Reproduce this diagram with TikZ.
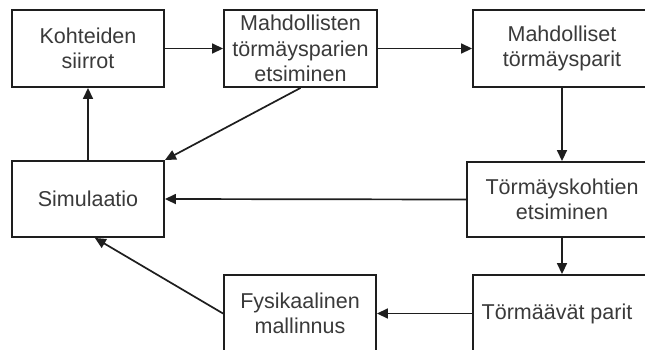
\documentclass[tikz,border=0pt]{standalone}
\usepackage{fontspec}
\setmainfont{Liberation Sans}
\usetikzlibrary{arrows.meta}
\definecolor{ink}{HTML}{1E1E1E}
\definecolor{txt}{HTML}{3A3A3A}
\begin{document}
\begin{tikzpicture}[x=1pt,y=-1pt,
  box/.style={draw=ink, line width=1.9pt, rectangle, inner sep=0pt,
    align=center, text=txt, font=\fontsize{21.5}{25.5}\selectfont},
  flow/.style={draw=ink, line width=1.7pt, -{Triangle[length=11pt,width=10pt]}}]
\useasboundingbox (0,0) rectangle (645,349);
\clip (0,0) rectangle (645,349);
\fill[white] (0,0) rectangle (645,349);
% process boxes
\node[box, minimum width=152pt, minimum height=77pt] (siirrot) at (88,48.5) {Kohteiden\\siirrot};
\node[box, minimum width=153pt, minimum height=77pt] (etsinta) at (300.5,48.5) {Mahdollisten\\törmäysparien\\etsiminen};
\node[box, minimum width=178pt, minimum height=77pt] (parit) at (562,48.5) {Mahdolliset\\törmäysparit};
\node[box, minimum width=152pt, minimum height=76pt] (sim) at (88,199) {Simulaatio};
\node[box, minimum width=190pt, minimum height=75pt] (kohdat) at (562,199.5) {Törmäyskohtien\\etsiminen};
\node[box, minimum width=178pt, minimum height=77pt] (tormaavat) at (562,313.5) {\hspace*{-10pt}Törmäävät parit};
\node[box, minimum width=152pt, minimum height=77pt] (fysiikka) at (300,313.5) {Fysikaalinen\\mallinnus};
% connectors
\draw[flow] (siirrot) -- (etsinta);
\draw[flow] (etsinta) -- (parit);
\draw[flow] (parit) -- (kohdat);
\draw[flow] (kohdat.west) -- (sim.east);
\draw[flow] (kohdat) -- (tormaavat);
\draw[flow] (tormaavat) -- (fysiikka);
\draw[flow] (fysiikka.west) -- (sim.280);
\draw[flow] (etsinta.south) -- (sim.north east);
\draw[flow] (sim) -- (siirrot);
\end{tikzpicture}
\end{document}
